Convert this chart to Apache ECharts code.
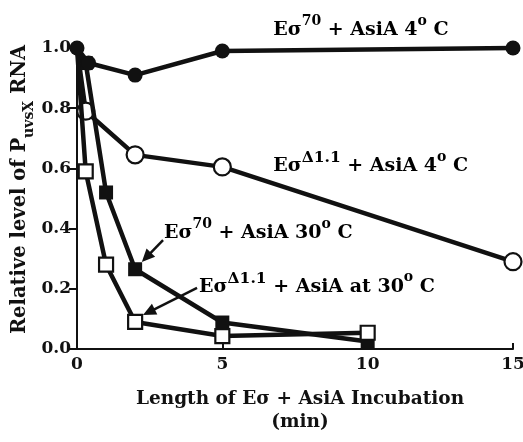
<!DOCTYPE html>
<html><head><meta charset="utf-8">
<script src="https://cdn.jsdelivr.net/npm/echarts@6/dist/echarts.min.js"></script>
<style>html,body{margin:0;padding:0;background:#fff}#c{width:523px;height:442px}</style>
</head><body><div id="c"></div>
<script>
// Data (x = minutes, y = relative level)
const xTicks = [0, 5, 10, 15];
const yTicks = [0.0, 0.2, 0.4, 0.6, 0.8, 1.0];
const s70_4C_x   = [0, 0.4, 2, 5, 15];
const s70_4C_y   = [1.0, 0.95, 0.91, 0.99, 1.0];
const sD11_4C_x  = [0, 0.3, 2, 5, 15];
const sD11_4C_y  = [1.0, 0.79, 0.645, 0.605, 0.29];
const s70_30C_x  = [0, 0.3, 1, 2, 5, 10];
const s70_30C_y  = [1.0, 0.95, 0.52, 0.265, 0.088, 0.025];
const sD11_30C_x = [0, 0.3, 1, 2, 5, 10];
const sD11_30C_y = [1.0, 0.59, 0.28, 0.09, 0.043, 0.054];

const FONT = 'DejaVu Serif';
const INK = '#111';
// first point (0, 1.0) is shared; only the filled-circle series shows its marker there
const pairs = (xs, ys, hideFirst) => xs.map((x, i) =>
  (hideFirst && i === 0) ? { value: [x, ys[i]], symbol: 'none' } : [x, ys[i]]);

function lineSeries(name, data, symbol, size, filled, z) {
  return {
    name, type: 'line', data, symbol, symbolSize: size, clip: false, z,
    lineStyle: { color: INK, width: 4.5 },
    itemStyle: { color: filled ? INK : '#fff', borderColor: INK, borderWidth: filled ? 0 : 2.2 },
    emphasis: { disabled: true }, animation: false
  };
}

function rich(size) {
  const sub = Math.round(size * 0.74);
  const base = { fontFamily: FONT, fontWeight: 'bold', color: INK, lineHeight: 32 };
  return {
    m: Object.assign({}, base, { fontSize: size, verticalAlign: 'middle' }),
    sup: Object.assign({}, base, { fontSize: sub, verticalAlign: 'top' }),
    supL: Object.assign({}, base, { fontSize: sub + 1.5, verticalAlign: 'top' }),
    sub: Object.assign({}, base, { fontSize: sub, verticalAlign: 'bottom' })
  };
}

const chart = echarts.init(document.getElementById('c'));

chart.setOption({
  animation: false,
  grid: { left: 77, right: 10, top: 48, bottom: 93, outerBoundsMode: 'none', containLabel: false },
  xAxis: {
    type: 'value', min: xTicks[0], max: xTicks[xTicks.length - 1], interval: 5,
    axisLine: { lineStyle: { color: INK, width: 2 } },
    axisTick: { inside: true, length: 6, lineStyle: { color: INK, width: 2 } },
    axisLabel: { fontFamily: FONT, fontWeight: 'bold', fontSize: 17, color: INK, margin: 7 },
    splitLine: { show: false },
    name: 'Length of Eσ + AsiA Incubation\n(min)', nameLocation: 'middle', nameGap: 39, nameMoveOverlap: false,
    nameTextStyle: { fontFamily: FONT, fontWeight: 'bold', fontSize: 18.5, color: INK, lineHeight: 23,
      verticalAlign: 'top', padding: [0, 0, 0, 10] }
  },
  yAxis: {
    type: 'value', min: yTicks[0], max: yTicks[yTicks.length - 1], interval: 0.2,
    axisLine: { show: true, lineStyle: { color: INK, width: 2 } },
    axisTick: { show: true, inside: false, length: 8, lineStyle: { color: INK, width: 2 } },
    axisLabel: { fontFamily: FONT, fontWeight: 'bold', fontSize: 17, color: INK, margin: 6, formatter: v => v.toFixed(1) },
    splitLine: { show: false },
    name: '{m|Relative level of P}{sub|uvsX}{m| RNA}', nameLocation: 'middle', nameGap: 41, nameMoveOverlap: false,
    nameTextStyle: { rich: rich(19.5), padding: [0, 0, 0, 18] }
  },
  series: [
    lineSeries('EσΔ1.1 + AsiA 4° C', pairs(sD11_4C_x, sD11_4C_y, true), 'circle', 17, false, 2),
    lineSeries('Eσ70 + AsiA 30° C', pairs(s70_30C_x, s70_30C_y, true), 'rect', 14, true, 3),
    lineSeries('EσΔ1.1 + AsiA at 30° C', pairs(sD11_30C_x, sD11_30C_y, true), 'rect', 14, false, 4),
    lineSeries('Eσ70 + AsiA 4° C', pairs(s70_4C_x, s70_4C_y, false), 'circle', 15, true, 5)
  ]
});

// Annotations anchored in data coordinates
const labels = [
  { at: [6.75, 1.06], text: '{m|Eσ}{sup|70}{m| + AsiA 4}{sup|o}{m| C}' },
  { at: [6.75, 0.607], text: '{m|Eσ}{supL|Δ1.1}{m| + AsiA 4}{sup|o}{m| C}' },
  { at: [2.99, 0.385], text: '{m|Eσ}{sup|70}{m| + AsiA 30}{sup|o}{m| C}' },
  { at: [4.2, 0.207], text: '{m|Eσ}{supL|Δ1.1}{m| + AsiA at 30}{sup|o}{m| C}' }
];
const arrows = [
  { from: [2.96, 0.362], to: [2.23, 0.289] },
  { from: [4.13, 0.203], to: [2.27, 0.113] }
];
const px = p => chart.convertToPixel({ gridIndex: 0 }, p);
const annRich = rich(19);
const g = [];
labels.forEach(l => {
  const p = px(l.at);
  g.push({ type: 'text', x: p[0], y: p[1], z: 20,
    style: { text: l.text, rich: annRich, verticalAlign: 'middle', align: 'left' } });
});
arrows.forEach(a => {
  const f = px(a.from), t = px(a.to);
  const dx = t[0] - f[0], dy = t[1] - f[1], L = Math.hypot(dx, dy);
  const ux = dx / L, uy = dy / L, hl = 13, hw = 6;
  const bx = t[0] - ux * hl, by = t[1] - uy * hl;
  g.push({ type: 'line', z: 20, shape: { x1: f[0], y1: f[1], x2: bx + ux * 2, y2: by + uy * 2 },
    style: { stroke: INK, lineWidth: 2.5 } });
  g.push({ type: 'polygon', z: 20, shape: { points: [[t[0], t[1]], [bx - uy * hw, by + ux * hw], [bx + uy * hw, by - ux * hw]] },
    style: { fill: INK } });
});
chart.setOption({ graphic: g });
</script></body></html>
